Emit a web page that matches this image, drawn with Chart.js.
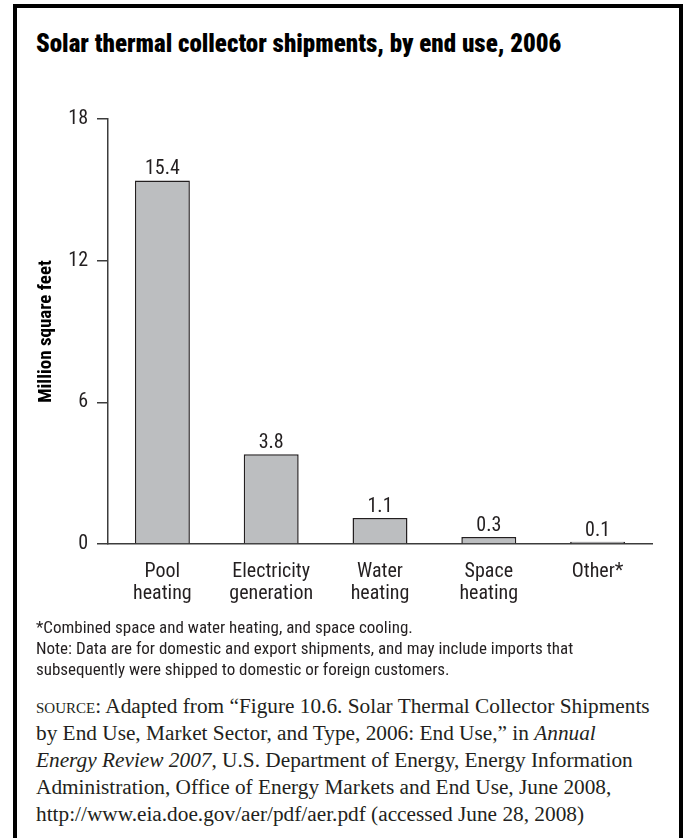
<!DOCTYPE html>
<html>
<head>
<meta charset="utf-8">
<title>Solar thermal collector shipments, by end use, 2006</title>
<script src="https://cdn.jsdelivr.net/npm/chart.js@4"></script>
<style>
  body { margin: 0; background: #fff; }
  #page { position: relative; width: 684px; height: 838px; overflow: hidden; }
  #frame {
    position: absolute; left: 13px; top: 4px; width: 670px; height: 900px;
    border: 4px solid #000; border-bottom: none; box-sizing: border-box;
  }
  #title {
    position: absolute; left: 36px; top: 29px; margin: 0;
    font-family: Roboto, sans-serif; font-size: 25px; font-weight: 900; font-stretch: 75%;
    color: #000; white-space: nowrap;
  }
  #chart { position: absolute; left: 0; top: 0; }
  #notes {
    position: absolute; left: 36px; top: 617px;
    font-family: Roboto, sans-serif; font-size: 17px; font-stretch: 75%;
    line-height: 21px; color: #231f20; white-space: nowrap;
  }
  #source {
    position: absolute; left: 36px; top: 693px;
    font: 21.3px 'Liberation Serif', 'Times New Roman', serif;
    line-height: 27px; color: #231f20; white-space: nowrap;
  }
  .sc { font-variant: small-caps; }
</style>
</head>
<body>
<div id="page">
  <div id="frame"></div>
  <h1 id="title">Solar thermal collector shipments, by end use, 2006</h1>
  <canvas id="chart" width="684" height="620"></canvas>
  <div id="notes">
    *Combined space and water heating, and space cooling.<br>
    Note: Data are for domestic and export shipments, and may include imports that<br>
    subsequently were shipped to domestic or foreign customers.
  </div>
  <div id="source">
    <span class="sc">source</span>: Adapted from “Figure 10.6. Solar Thermal Collector Shipments<br>
    by End Use, Market Sector, and Type, 2006: End Use,” in <i>Annual</i><br>
    <i>Energy Review 2007</i>, U.S. Department of Energy, Energy Information<br>
    Administration, Office of Energy Markets and End Use, June 2008,<br>
    http://www.eia.doe.gov/aer/pdf/aer.pdf (accessed June 28, 2008)
  </div>
</div>
<script>
// end use categories (two-line labels)
const categories = [
  ['Pool', 'heating'],
  ['Electricity', 'generation'],
  ['Water', 'heating'],
  ['Space', 'heating'],
  ['Other*']
];
// million square feet
const shipments = [15.4, 3.8, 1.1, 0.3, 0.1];
const yTicks = [0, 6, 12, 18];

const FAMILY = 'Roboto, sans-serif';
const INK = '#231f20';
const AXIS = '#3c3c3c';

// prints the value above each bar
const barValueLabels = {
  id: 'barValueLabels',
  afterDatasetsDraw(chart) {
    const ctx = chart.ctx;
    const meta = chart.getDatasetMeta(0);
    ctx.save();
    ctx.font = 'condensed 20px ' + FAMILY;
    ctx.fillStyle = INK;
    ctx.textAlign = 'center';
    ctx.textBaseline = 'alphabetic';
    meta.data.forEach((bar, i) => {
      ctx.fillText(shipments[i].toFixed(1), bar.x, bar.y - 6);
    });
    ctx.restore();
  }
};

new Chart(document.getElementById('chart').getContext('2d'), {
  type: 'bar',
  data: {
    labels: categories,
    datasets: [{
      data: shipments,
      backgroundColor: '#bcbec0',
      borderColor: INK,
      borderWidth: 1.5,
      barPercentage: 0.505,
      categoryPercentage: 1
    }]
  },
  options: {
    responsive: false,
    animation: false,
    layout: { padding: { left: 31, right: 32, top: 119, bottom: 6 } },
    plugins: {
      legend: { display: false },
      tooltip: { enabled: false }
    },
    scales: {
      x: {
        grid: { display: true, drawOnChartArea: false, drawTicks: false, color: 'rgba(0,0,0,0)' },
        border: { display: true, color: AXIS, width: 1.5 },
        // 'condensed' rides along in the weight slot of the canvas font string
        ticks: { color: INK, font: { family: FAMILY, size: 20, weight: 'condensed', lineHeight: 1.1 }, padding: 17, maxRotation: 0 },
        afterFit: (scale) => { scale.height = 70; }
      },
      y: {
        min: 0,
        max: 18,
        afterBuildTicks: (scale) => { scale.ticks = yTicks.map(v => ({ value: v })); },
        grid: { drawOnChartArea: false, drawTicks: true, tickLength: 11, color: AXIS, lineWidth: 1.5 },
        border: { display: true, color: AXIS, width: 1.5 },
        ticks: { color: INK, font: { family: FAMILY, size: 20, weight: 'condensed' }, padding: 9 },
        title: {
          display: true,
          text: 'Million square feet',
          color: '#000',
          font: { family: FAMILY, size: 19, weight: 'bold condensed' },
          padding: { top: 4, bottom: 4 }
        },
        afterFit: (scale) => { scale.width = 77; }
      }
    }
  },
  plugins: [barValueLabels]
});
</script>
</body>
</html>
